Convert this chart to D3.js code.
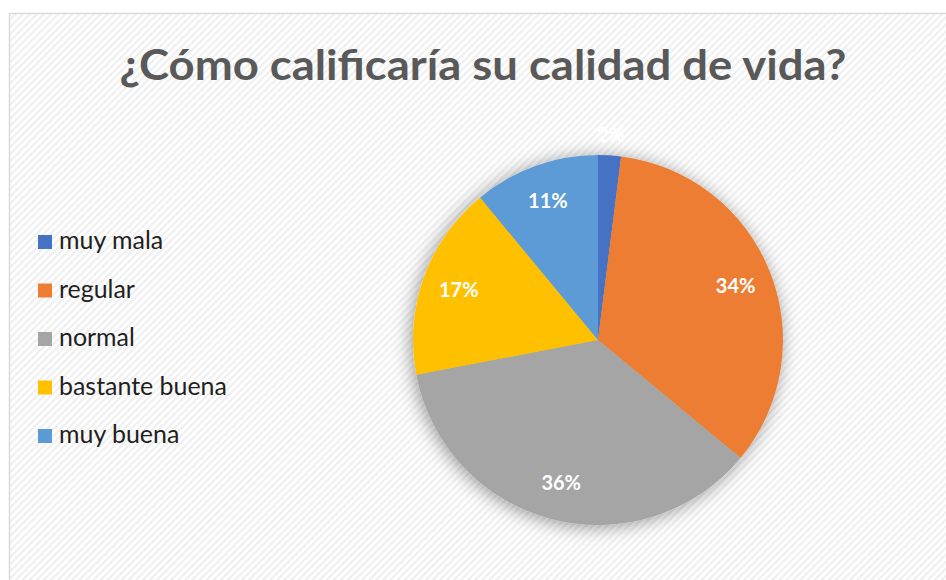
<!DOCTYPE html>
<html><head><meta charset="utf-8">
<script src="https://cdn.jsdelivr.net/npm/d3@7"></script>
<style>html,body{margin:0;padding:0;background:#fff;overflow:hidden}</style>
</head><body>
<svg id="c" width="946" height="580"></svg>
<script>
const categories = ["muy mala","regular","normal","bastante buena","muy buena"];
const values = [2,34,36,17,11];
const colors = ["#4472C4","#ED7D31","#A5A5A5","#FFC000","#5B9BD5"];
const title = "¿Cómo calificaría su calidad de vida?";

const svg = d3.select("#c");
const defs = svg.append("defs");
const pat = defs.append("pattern").attr("id","hatch").attr("patternUnits","userSpaceOnUse")
  .attr("width",5).attr("height",5).attr("patternTransform","rotate(-45)");
pat.append("rect").attr("width",5).attr("height",5).attr("fill","#ffffff");
pat.append("rect").attr("width",5).attr("height",2.2).attr("fill","#efefef");
const f = defs.append("filter").attr("id","sh").attr("x","-30%").attr("y","-30%").attr("width","160%").attr("height","160%");
f.append("feDropShadow").attr("dx",-2).attr("dy",2).attr("stdDeviation",9).attr("flood-color","#000").attr("flood-opacity",0.4);

svg.append("rect").attr("x",9.5).attr("y",13.5).attr("width",960).attr("height",600)
  .attr("fill","url(#hatch)").attr("stroke","#d9d9d9").attr("stroke-width",1.5);

const FONT = "Lato, 'Open Sans', sans-serif";
const t = svg.append("text").attr("x",0).attr("y",0).attr("text-anchor","middle")
  .attr("font-family",FONT).attr("font-weight","bold").attr("font-size",42)
  .attr("fill","#595959").text(title);
let w = t.node().getComputedTextLength();
t.attr("transform",`translate(483,80) scale(${727/w},1)`);

// legend
const lg = svg.append("g");
categories.forEach((c,i)=>{
  const y = 242 + i*48.5;
  lg.append("rect").attr("x",38).attr("y",y-7).attr("width",14).attr("height",14).attr("fill",colors[i]);
  lg.append("text").attr("x",59).attr("y",y+7).attr("font-family",FONT).attr("font-size",21)
    .attr("fill","#1f1f1f").text(c);
});
const lt = lg.selectAll("text").nodes()[3];
const lw = lt.getComputedTextLength();
lg.selectAll("text").attr("font-size",21*168/lw);

// pie
const cx=598, cy=340, r=185;
const pie = d3.pie().sort(null).value(d=>d)(values);
const arc = d3.arc().innerRadius(0).outerRadius(r);
const g = svg.append("g").attr("transform",`translate(${cx},${cy})`);
g.append("g").attr("filter","url(#sh)").selectAll("path").data(pie).join("path")
  .attr("d",arc).attr("fill",(d,i)=>colors[i]);
const inner = d3.arc().innerRadius(r*0.8).outerRadius(r*0.8);
const outer = d3.arc().innerRadius(r*1.11).outerRadius(r*1.11);
g.selectAll("text.l").data(pie).join("text").attr("class","l")
  .attr("transform",d=>{const p=(d.data<5?outer:inner).centroid(d);return `translate(${p[0]},${p[1]})`;})
  .attr("text-anchor","middle").attr("dy","0.35em")
  .attr("font-family",FONT).attr("font-weight","bold").attr("font-size",20).attr("fill","#fff")
  .text(d=>d.data+"%");
</script>
</body></html>
